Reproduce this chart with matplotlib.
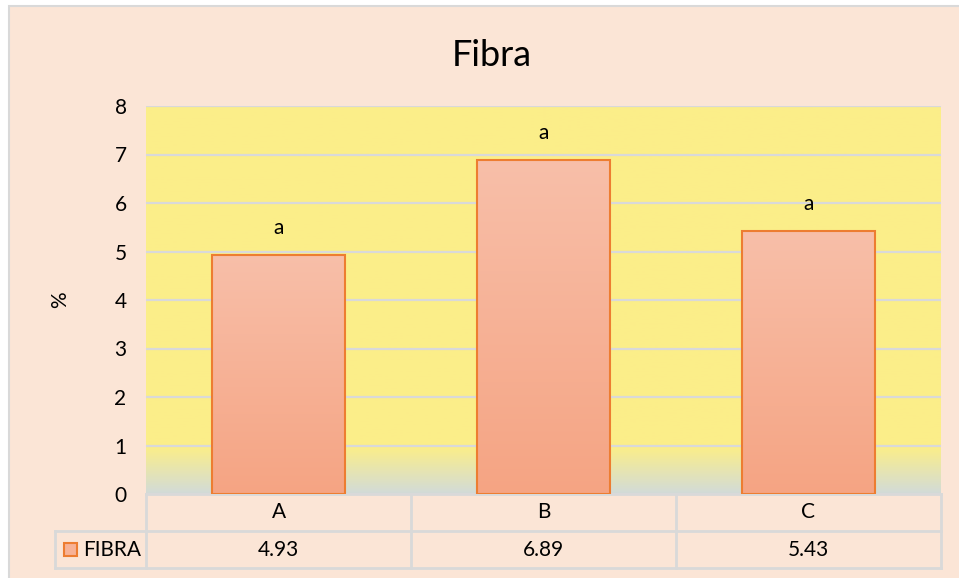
import numpy as np
import matplotlib.pyplot as plt
from matplotlib.colors import LinearSegmentedColormap
from matplotlib.patches import Rectangle
import matplotlib.transforms as mtransforms

plt.rcParams['font.family'] = ['Lato', 'DejaVu Sans']

# datos
categorias = ['A', 'B', 'C']
fibra = [4.93, 6.89, 5.43]
letras = ['a', 'a', 'a']
serie = 'FIBRA'
titulo = 'Fibra'
yticks = [0, 1, 2, 3, 4, 5, 6, 7, 8]

W, H = 959, 578
fig = plt.figure(figsize=(W / 100, H / 100), dpi=100)
fig.patch.set_facecolor('white')

# fondo del grafico con borde gris
fig.patches.append(Rectangle((9 / W, -0.05), 1, 1.05 - 6 / H, transform=fig.transFigure,
                             facecolor='#FBE5D6', edgecolor='#D9D9D9', linewidth=1.5, zorder=-10))

x0, x1 = 146, 941
y0, y1 = 494, 106
ax = fig.add_axes([x0 / W, 1 - y0 / H, (x1 - x0) / W, (y0 - y1) / H])
ax.set_facecolor('none')
for s in ax.spines.values():
    s.set_visible(False)

ax.set_xlim(-0.5, len(categorias) - 0.5)
ax.set_ylim(0, 8)

# degradado del area de trazado
fondo = LinearSegmentedColormap.from_list('fondo', [(0, '#D2DBD8'), (0.12, '#FBEE89'), (1, '#FCEE8A')])
grad = np.linspace(0, 1, 256).reshape(-1, 1)
ax.imshow(grad, aspect='auto', cmap=fondo, origin='lower', extent=(0, 1, 0, 1),
          transform=ax.transAxes, zorder=0)

ax.set_yticks(yticks)
ax.yaxis.grid(True, color='#D9D9D9', linewidth=1.6, zorder=1)
ax.set_axisbelow(True)
ax.tick_params(axis='y', length=0, labelsize=15, pad=14)
ax.tick_params(axis='x', length=0, labelbottom=False)
ax.set_ylabel('%', fontsize=15, labelpad=32)

# barras con degradado
barras = ax.bar(range(len(categorias)), fibra, width=0.505, color='none',
                edgecolor='#ED7D31', linewidth=1.5, zorder=3)
cmap_bar = LinearSegmentedColormap.from_list('bar', ['#F5A483', '#F8BFA9'])
for b, v, l in zip(barras, fibra, letras):
    bx, by = b.get_x(), b.get_y()
    im = ax.imshow(grad, aspect='auto', cmap=cmap_bar, origin='lower',
                   extent=(bx, bx + b.get_width(), by, by + b.get_height()), zorder=2)
    im.set_clip_path(b)
    ax.text(bx + b.get_width() / 2, v + 0.35, l, ha='center', va='bottom', fontsize=15)
ax.set_xlim(-0.5, len(categorias) - 0.5)
ax.set_ylim(0, 8)

# titulo
fig.text(0.5 + 12 / W, 1 - 56 / H, titulo, ha='center', va='center', fontsize=26)

# tabla de datos
trans = mtransforms.blended_transform_factory(ax.transData, ax.transAxes)
fila = 37 / (y0 - y1)
gris = dict(color='#D9D9D9', linewidth=2, transform=trans, clip_on=False)
izq = -0.5 - (x0 - 55) / ((x1 - x0) / len(categorias))
n = len(categorias)
ax.plot([-0.5, n - 0.5], [0, 0], **gris)
ax.plot([izq, n - 0.5], [-fila, -fila], **gris)
ax.plot([izq, n - 0.5], [-2 * fila, -2 * fila], **gris)
ax.plot([izq, izq], [-fila, -2 * fila], **gris)
for i in range(n + 1):
    ax.plot([i - 0.5, i - 0.5], [0, -2 * fila], **gris)
for i, (c, v) in enumerate(zip(categorias, fibra)):
    ax.text(i, -fila / 2, c, ha='center', va='center', transform=trans, fontsize=15)
    ax.text(i, -1.5 * fila, f'{v:.2f}', ha='center', va='center', transform=trans, fontsize=15)

# leyenda en la tabla
fig.patches.append(Rectangle((64 / W, 1 - 556 / H), 13 / W, 13 / H, transform=fig.transFigure,
                             facecolor='#F7B296', edgecolor='#ED7D31', linewidth=1.5, zorder=5))
fig.text(83 / W, 1 - 549.5 / H, serie, ha='left', va='center', fontsize=15)

fig.savefig('out.png', dpi=100, facecolor=fig.get_facecolor())
